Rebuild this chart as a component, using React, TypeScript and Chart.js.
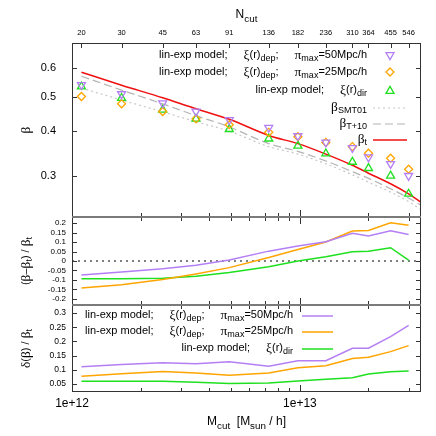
import React, { useEffect, useRef } from 'react';
import { Chart, registerables } from 'chart.js';

Chart.register(...registerables);

// ---------- data ----------
const massCut = [1.1e12, 1.65e12, 2.5e12, 3.5e12, 4.9e12, 7.3e12, 9.8e12, 1.3e13, 1.7e13, 2.0e13, 2.5e13, 3.0e13];
const nCutLabels = ['20', '30', '45', '63', '91', '136', '182', '236', '310', '364', '455', '546'];

const betaDep50 = [0.539, 0.508, 0.479, 0.454, 0.430, 0.409, 0.388, 0.372, 0.359, 0.338, 0.324, 0.300];
const betaDep25 = [0.500, 0.477, 0.454, 0.433, 0.417, 0.397, 0.386, 0.372, 0.362, 0.347, 0.336, 0.313];
const betaDir = [0.533, 0.495, 0.459, 0.433, 0.405, 0.381, 0.364, 0.346, 0.328, 0.315, 0.300, 0.267];

const theoryMass = [1.1e12, 1.65e12, 2.5e12, 3.5e12, 4.9e12, 7.3e12, 9.8e12, 1.3e13, 1.7e13, 2.0e13, 2.5e13, 3.0e13, 3.4e13];
const betaT = [0.585, 0.538, 0.496, 0.462, 0.432, 0.389, 0.369, 0.345, 0.321, 0.305, 0.285, 0.267, 0.253];
const betaT10 = [0.570, 0.521, 0.477, 0.442, 0.411, 0.369, 0.351, 0.330, 0.308, 0.295, 0.276, 0.260, 0.248];
const betaSMT01 = [0.528, 0.489, 0.453, 0.425, 0.400, 0.362, 0.345, 0.324, 0.302, 0.288, 0.270, 0.254, 0.241];

const relDiffDep50 = [-0.074, -0.058, -0.041, -0.022, 0.005, 0.052, 0.079, 0.102, 0.146, 0.132, 0.160, 0.140];
const relDiffDep25 = [-0.143, -0.125, -0.097, -0.068, -0.035, 0.018, 0.061, 0.100, 0.158, 0.161, 0.202, 0.188];
const relDiffDir = [-0.094, -0.093, -0.091, -0.080, -0.061, -0.030, 0.000, 0.023, 0.049, 0.051, 0.070, 0.005];
const zeroLineMass = [1.0e12, 3.4e13];
const zeroLineVal = [0, 0];

const relErrDep50 = [0.111, 0.119, 0.125, 0.121, 0.128, 0.113, 0.132, 0.132, 0.176, 0.176, 0.217, 0.256];
const relErrDep25 = [0.077, 0.086, 0.094, 0.089, 0.081, 0.089, 0.107, 0.114, 0.140, 0.144, 0.164, 0.185];
const relErrDir = [0.060, 0.060, 0.060, 0.056, 0.052, 0.054, 0.061, 0.067, 0.072, 0.085, 0.093, 0.096];

// ---------- axis ticks ----------
const xMajorTicks = [1e12, 1e13];
const xMajorLabels = ['1e+12', '1e+13'];
const xMinorTicks = [2e12, 3e12, 4e12, 5e12, 6e12, 7e12, 8e12, 9e12, 2e13, 3e13];
const topYTicks = [0.3, 0.4, 0.5, 0.6];
const midYTicks = [-0.2, -0.15, -0.1, -0.05, 0, 0.05, 0.1, 0.15, 0.2];
const botYTicks = [0.05, 0.1, 0.15, 0.2, 0.25, 0.3];

// ---------- styles ----------
const PURPLE = '#b47ff5';
const ORANGE = '#ffa500';
const GREEN = '#1ee01e';
const RED = '#f01010';
const GRAY_DOT = '#c8c8c8';
const GRAY_DASH = '#b4b4b4';
const SANS = '"Liberation Sans", Arial, sans-serif';
const SERIF = '"Liberation Serif", "DejaVu Serif", serif';

type Seg = { t: string; sub?: boolean; g?: boolean; gap?: number };

const GAP = 16;
const legDep50: Seg[] = [{ t: 'lin-exp model;' }, { t: '', gap: GAP }, { t: 'ξ', g: true }, { t: '(r)' }, { t: 'dep', sub: true }, { t: ';' }, { t: '', gap: GAP }, { t: 'π', g: true }, { t: 'max', sub: true }, { t: '=50Mpc/h' }];
const legDep25: Seg[] = [{ t: 'lin-exp model;' }, { t: '', gap: GAP }, { t: 'ξ', g: true }, { t: '(r)' }, { t: 'dep', sub: true }, { t: ';' }, { t: '', gap: GAP }, { t: 'π', g: true }, { t: 'max', sub: true }, { t: '=25Mpc/h' }];
const legDir: Seg[] = [{ t: 'lin-exp model;' }, { t: '', gap: GAP }, { t: 'ξ', g: true }, { t: '(r)' }, { t: 'dir', sub: true }];
const legSMT: Seg[] = [{ t: 'β', g: true }, { t: 'SMT01', sub: true }];
const legT10: Seg[] = [{ t: 'β', g: true }, { t: 'T+10', sub: true }];
const legBt: Seg[] = [{ t: 'β', g: true }, { t: 't', sub: true }];
const titleTop: Seg[] = [{ t: 'β', g: true }];
const titleMid: Seg[] = [{ t: '(' }, { t: 'β', g: true }, { t: '–' }, { t: 'β', g: true }, { t: 't', sub: true }, { t: ') / ' }, { t: 'β', g: true }, { t: 't', sub: true }];
const titleBot: Seg[] = [{ t: 'δ', g: true }, { t: '(' }, { t: 'β', g: true }, { t: ') / ' }, { t: 'β', g: true }, { t: 't', sub: true }];
const titleX: Seg[] = [{ t: 'M' }, { t: 'cut', sub: true }, { t: '  [M' }, { t: 'sun', sub: true }, { t: ' / h]' }];
const titleX2: Seg[] = [{ t: 'N' }, { t: 'cut', sub: true }];

function segFont(s: Seg, size: number) {
  const sz = s.sub ? size * 0.82 : s.g ? size * 1.22 : size;
  return `${sz}px ${s.g ? SERIF : SANS}`;
}
function segWidth(ctx: CanvasRenderingContext2D, s: Seg, size: number) {
  if (s.gap) return s.gap;
  ctx.font = segFont(s, size);
  return ctx.measureText(s.t).width;
}
function drawRich(ctx: CanvasRenderingContext2D, segs: Seg[], x: number, y: number, align: string, size: number) {
  let w = 0;
  segs.forEach((s) => {
    w += segWidth(ctx, s, size);
  });
  let cx = align === 'right' ? x - w : align === 'center' ? x - w / 2 : x;
  ctx.textBaseline = 'middle';
  ctx.textAlign = 'left';
  segs.forEach((s) => {
    const sw = segWidth(ctx, s, size);
    if (!s.gap) {
      ctx.font = segFont(s, size);
      ctx.fillText(s.t, cx, y + (s.sub ? size * 0.34 : 0));
    }
    cx += sw;
  });
}

function marker(ctx: CanvasRenderingContext2D, kind: string, x: number, y: number, r: number, color: string) {
  ctx.save();
  ctx.strokeStyle = color;
  ctx.lineWidth = 1.3;
  ctx.beginPath();
  if (kind === 'diamond') {
    ctx.moveTo(x, y - r);
    ctx.lineTo(x + r, y);
    ctx.lineTo(x, y + r);
    ctx.lineTo(x - r, y);
  } else {
    let rad = kind === 'down' ? Math.PI : 0;
    for (let k = 0; k < 3; k++) {
      const px = x + Math.sin(rad) * r;
      const py = y - Math.cos(rad) * r;
      if (k === 0) ctx.moveTo(px, py);
      else ctx.lineTo(px, py);
      rad += (2 * Math.PI) / 3;
    }
  }
  ctx.closePath();
  ctx.stroke();
  ctx.restore();
}

const decorPlugin = {
  id: 'decor',
  afterDraw(chart: any) {
    const { ctx, scales } = chart;
    const xs = scales.x;
    const x2 = scales.x2;
    const L = xs.left;
    const R = xs.right;
    const panels = [
      { s: scales.yTop, ticks: topYTicks },
      { s: scales.yMid, ticks: midYTicks },
      { s: scales.yBot, ticks: botYTicks },
    ];
    const seg = (a: number, b: number, c: number, d: number) => {
      ctx.beginPath();
      ctx.moveTo(a, b);
      ctx.lineTo(c, d);
      ctx.stroke();
    };
    ctx.save();
    ctx.strokeStyle = '#333';
    ctx.lineWidth = 1;
    panels.forEach((p, i) => {
      const T = p.s.top;
      const B = p.s.bottom;
      p.ticks.forEach((v) => {
        const y = Math.round(p.s.getPixelForValue(v)) + 0.5;
        seg(L, y, L + 5, y);
        seg(R - 5, y, R, y);
      });
      xMajorTicks.forEach((v) => {
        const x = Math.round(xs.getPixelForValue(v)) + 0.5;
        seg(x, B, x, B - 7);
        if (i > 0) seg(x, T, x, T + 7);
      });
      xMinorTicks.forEach((v) => {
        const x = Math.round(xs.getPixelForValue(v)) + 0.5;
        seg(x, B, x, B - 4);
        if (i > 0) seg(x, T, x, T + 4);
      });
      if (i === 0) {
        massCut.forEach((v) => {
          const x = Math.round(x2.getPixelForValue(v)) + 0.5;
          seg(x, T, x, T + 5);
        });
      }
    });
    // frame
    const top = scales.yTop.top;
    const bottom = scales.yBot.bottom;
    ctx.strokeStyle = '#333';
    ctx.strokeRect(Math.round(L) + 0.5, Math.round(top) + 0.5, Math.round(R - L) - 1, Math.round(bottom - top) - 1);
    ctx.strokeStyle = '#7a7a7a';
    ctx.lineWidth = 2;
    seg(L, Math.round(scales.yMid.top), R, Math.round(scales.yMid.top));
    seg(L, Math.round(scales.yBot.top), R, Math.round(scales.yBot.top));
    ctx.restore();

    // legends
    ctx.save();
    ctx.fillStyle = '#000';
    const tT = scales.yTop.top;
    const FS = 11;
    const textR = R - 54;
    const symX = R - 31;
    const rowsTop = [12, 29, 47];
    drawRich(ctx, legDep50, textR, tT + rowsTop[0], 'right', FS);
    marker(ctx, 'down', symX, tT + rowsTop[0], 4.6, PURPLE);
    drawRich(ctx, legDep25, textR, tT + rowsTop[1], 'right', FS);
    marker(ctx, 'diamond', symX, tT + rowsTop[1], 4, ORANGE);
    drawRich(ctx, legDir, textR, tT + rowsTop[2], 'right', FS);
    marker(ctx, 'up', symX, tT + rowsTop[2] + 1, 4.6, GREEN);
    const lineRows = [
      { segs: legSMT, y: 64, c: GRAY_DOT, d: [2, 3], w: 1.2 },
      { segs: legT10, y: 80, c: GRAY_DASH, d: [8, 4], w: 1.2 },
      { segs: legBt, y: 96, c: RED, d: [], w: 1.5 },
    ];
    lineRows.forEach((r) => {
      drawRich(ctx, r.segs, textR, tT + r.y, 'right', FS);
      ctx.save();
      ctx.strokeStyle = r.c;
      ctx.lineWidth = r.w;
      ctx.setLineDash(r.d);
      ctx.beginPath();
      ctx.moveTo(R - 48, tT + r.y + 1);
      ctx.lineTo(R - 14, tT + r.y + 1);
      ctx.stroke();
      ctx.restore();
    });
    const tB = scales.yBot.top;
    const rowsBot = [
      { segs: legDep50, y: 10, c: PURPLE },
      { segs: legDep25, y: 26, c: ORANGE },
      { segs: legDir, y: 43, c: GREEN },
    ];
    rowsBot.forEach((r) => {
      drawRich(ctx, r.segs, R - 128, tB + r.y, 'right', FS);
      ctx.save();
      ctx.strokeStyle = r.c;
      ctx.lineWidth = 1.5;
      ctx.beginPath();
      ctx.moveTo(R - 119, tB + r.y + 1);
      ctx.lineTo(R - 88, tB + r.y + 1);
      ctx.stroke();
      ctx.restore();
    });

    // axis titles
    const cx = (L + R) / 2;
    drawRich(ctx, titleX, cx, 422, 'center', 12);
    drawRich(ctx, titleX2, cx, 15, 'center', 12);
    const vt = (segs: Seg[], s: any) => {
      ctx.save();
      ctx.translate(26, (s.top + s.bottom) / 2);
      ctx.rotate(-Math.PI / 2);
      drawRich(ctx, segs, 0, 0, 'center', 11);
      ctx.restore();
    };
    vt(titleTop, scales.yTop);
    vt(titleMid, scales.yMid);
    vt(titleBot, scales.yBot);
    ctx.restore();
  },
};

function pts(xs: number[], ys: number[]) {
  return xs.map((x, i) => ({ x, y: ys[i] }));
}

const noGrid = { display: false, drawTicks: false };
const noBorder = { display: false };

export default function App() {
  const ref = useRef<HTMLCanvasElement>(null);
  useEffect(() => {
    if (!ref.current) return;
    const markerBase = {
      showLine: false,
      backgroundColor: 'rgba(0,0,0,0)',
      pointBorderWidth: 1.3,
      yAxisID: 'yTop',
    };
    const lineBase = { pointRadius: 0, fill: false, borderWidth: 1.5 };
    const chart = new Chart(ref.current, {
      type: 'line',
      data: {
        datasets: [
          { ...markerBase, label: 'dep50', data: pts(massCut, betaDep50), borderColor: PURPLE, pointStyle: 'triangle', rotation: 180, pointRadius: 4.6 } as any,
          { ...markerBase, label: 'dep25', data: pts(massCut, betaDep25), borderColor: ORANGE, pointStyle: 'rectRot', pointRadius: 4 } as any,
          { ...markerBase, label: 'dir', data: pts(massCut, betaDir), borderColor: GREEN, pointStyle: 'triangle', pointRadius: 4.6 } as any,
          { ...lineBase, label: 'bt', data: pts(theoryMass, betaT), borderColor: RED, yAxisID: 'yTop', cubicInterpolationMode: 'monotone' } as any,
          { ...lineBase, label: 'bT10', data: pts(theoryMass, betaT10), borderColor: GRAY_DASH, borderDash: [8, 4], borderWidth: 1.2, yAxisID: 'yTop', cubicInterpolationMode: 'monotone' } as any,
          { ...lineBase, label: 'bSMT', data: pts(theoryMass, betaSMT01), borderColor: GRAY_DOT, borderDash: [2, 3], borderWidth: 1.2, yAxisID: 'yTop', cubicInterpolationMode: 'monotone' } as any,
          { ...lineBase, label: 'd50', data: pts(massCut, relDiffDep50), borderColor: PURPLE, yAxisID: 'yMid' } as any,
          { ...lineBase, label: 'd25', data: pts(massCut, relDiffDep25), borderColor: ORANGE, yAxisID: 'yMid' } as any,
          { ...lineBase, label: 'ddir', data: pts(massCut, relDiffDir), borderColor: GREEN, yAxisID: 'yMid' } as any,
          { ...lineBase, label: 'zero', data: pts(zeroLineMass, zeroLineVal), borderColor: '#000', borderWidth: 1, borderDash: [2, 4], yAxisID: 'yMid' } as any,
          { ...lineBase, label: 'e50', data: pts(massCut, relErrDep50), borderColor: PURPLE, yAxisID: 'yBot' } as any,
          { ...lineBase, label: 'e25', data: pts(massCut, relErrDep25), borderColor: ORANGE, yAxisID: 'yBot' } as any,
          { ...lineBase, label: 'edir', data: pts(massCut, relErrDir), borderColor: GREEN, yAxisID: 'yBot' } as any,
        ],
      },
      options: {
        animation: false,
        responsive: false,
        devicePixelRatio: 1,
        events: [],
        layout: { padding: { left: 0, right: 15, top: 0, bottom: 0 } },
        plugins: { legend: { display: false }, tooltip: { enabled: false } },
        scales: {
          x: {
            type: 'logarithmic',
            position: 'bottom',
            min: 1e12,
            max: 3.4e13,
            grid: noGrid,
            border: noBorder,
            afterBuildTicks: (s: any) => {
              s.ticks = xMajorTicks.map((v) => ({ value: v }));
            },
            afterFit: (s: any) => {
              s.height = 44;
            },
            ticks: {
              autoSkip: false,
              maxRotation: 0,
              padding: 4,
              color: '#000',
              font: { size: 12, family: SANS },
              callback: (_v: any, i: number) => xMajorLabels[i],
            },
          },
          x2: {
            type: 'logarithmic',
            position: 'top',
            min: 1e12,
            max: 3.4e13,
            grid: noGrid,
            border: noBorder,
            afterBuildTicks: (s: any) => {
              s.ticks = massCut.map((v) => ({ value: v }));
            },
            afterFit: (s: any) => {
              s.height = 43;
            },
            ticks: {
              autoSkip: false,
              maxRotation: 0,
              padding: 6,
              color: '#000',
              font: { size: 7.5, family: SANS },
              callback: (_v: any, i: number) => nCutLabels[i],
            },
          },
          yTop: {
            type: 'logarithmic',
            position: 'left',
            stack: 'panels',
            stackWeight: 174,
            weight: 3,
            min: 0.23,
            max: 0.706,
            grid: noGrid,
            border: noBorder,
            afterBuildTicks: (s: any) => {
              s.ticks = topYTicks.map((v) => ({ value: v }));
            },
            afterFit: (s: any) => {
              s.width = 72;
            },
            ticks: {
              autoSkip: false,
              padding: 16,
              color: '#000',
              font: { size: 11, family: SANS },
              callback: (v: any) => String(v),
            },
          },
          yMid: {
            type: 'linear',
            position: 'left',
            stack: 'panels',
            stackWeight: 88,
            weight: 2,
            min: -0.232,
            max: 0.232,
            grid: noGrid,
            border: noBorder,
            afterBuildTicks: (s: any) => {
              s.ticks = midYTicks.map((v) => ({ value: v }));
            },
            afterFit: (s: any) => {
              s.width = 72;
            },
            ticks: {
              autoSkip: false,
              padding: 6,
              color: '#000',
              font: { size: 8, family: SANS },
              callback: (v: any) => String(Math.round(v * 100) / 100),
            },
          },
          yBot: {
            type: 'linear',
            position: 'left',
            stack: 'panels',
            stackWeight: 87,
            weight: 1,
            min: 0.022,
            max: 0.328,
            grid: noGrid,
            border: noBorder,
            afterBuildTicks: (s: any) => {
              s.ticks = botYTicks.map((v) => ({ value: v }));
            },
            afterFit: (s: any) => {
              s.width = 72;
            },
            ticks: {
              autoSkip: false,
              padding: 6,
              color: '#000',
              font: { size: 8.5, family: SANS },
              callback: (v: any) => String(Math.round(v * 100) / 100),
            },
          },
        },
      } as any,
      plugins: [decorPlugin],
    });
    return () => chart.destroy();
  }, []);
  return (
    <div style={{ position: 'fixed', left: 0, top: 0, width: 436, height: 436, background: '#fff' }}>
      <canvas ref={ref} width={436} height={436} style={{ width: 436, height: 436 }} />
    </div>
  );
}
